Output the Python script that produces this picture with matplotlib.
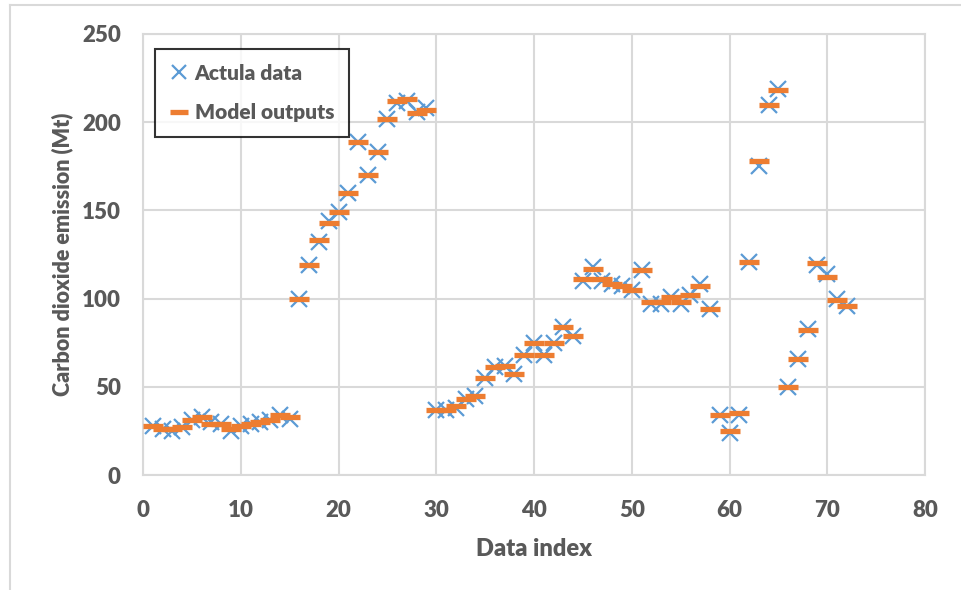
import matplotlib.pyplot as plt
import numpy as np

# data
idx = list(range(1, 73))
actual = [28, 26, 25, 27, 31, 33, 30, 29, 25, 28, 29, 30, 31, 34, 32,
          100, 119, 132, 144, 149, 160, 189, 170, 183, 202, 211, 212, 206, 208,
          37, 37, 38, 43, 45, 55, 61, 62, 57, 68, 75, 68, 75, 84, 79,
          110, 118, 110, 108, 107, 105, 116, 97, 97, 101, 97, 102, 108, 94,
          34, 24, 34, 121, 175, 210, 219, 50, 66, 83, 119, 114, 100, 96]
model = [28, 26, 26, 27, 31, 33, 29, 29, 26, 28, 29, 30, 31, 34, 33,
         100, 119, 133, 143, 149, 160, 189, 170, 183, 202, 212, 213, 205, 207,
         37, 37, 39, 43, 45, 55, 61, 62, 57, 68, 75, 68, 75, 84, 79,
         111, 117, 111, 108, 107, 105, 116, 98, 98, 101, 98, 102, 107, 94,
         34, 25, 35, 121, 178, 210, 218, 50, 66, 82, 120, 112, 99, 96]

txt = '#595959'
plt.rcParams['font.family'] = ['Lato', 'DejaVu Sans']
plt.rcParams['font.weight'] = 'bold'

fig = plt.figure(figsize=(9.61, 5.90), dpi=100)
ax = fig.add_axes([143 / 961, 1 - 475 / 590, (925 - 143) / 961, (475 - 34) / 590])

ax.plot(idx, actual, linestyle='none', marker='x', markersize=12, mew=1.6,
        color='#5B9BD5', label='Actula data', zorder=3)
ax.plot(idx, model, linestyle='none', marker='_', markersize=15, mew=3.8,
        color='#ED7D31', label='Model outputs', zorder=4)

ax.set_xlim(0, 80)
ax.set_ylim(0, 250)
ax.set_xticks(np.arange(0, 81, 10))
ax.set_yticks(np.arange(0, 251, 50))
ax.grid(True, color='#D9D9D9', linewidth=1.5)
ax.set_axisbelow(True)
for s in ax.spines.values():
    s.set_color('#D9D9D9')
    s.set_linewidth(1.5)
ax.tick_params(length=0, labelsize=16, labelcolor=txt)
ax.tick_params(axis='x', pad=18)
ax.tick_params(axis='y', pad=16)
for lab in ax.get_xticklabels() + ax.get_yticklabels():
    lab.set_fontweight('heavy')

ax.set_xlabel('Data index', fontsize=17, color=txt, fontweight='heavy', labelpad=12)
ax.set_ylabel('Carbon dioxide emission (Mt)', fontsize=15.5, color=txt,
              fontweight='heavy', labelpad=6)

leg = ax.legend(loc='upper left', bbox_to_anchor=(12 / 782, 1 - 15 / 441),
                borderaxespad=0, frameon=True, fancybox=False, edgecolor='black',
                fontsize=15, borderpad=0.7, labelspacing=1.0, handlelength=0.9,
                handletextpad=0.3, markerscale=0.85)
leg.get_frame().set_linewidth(1.5)
for t in leg.get_texts():
    t.set_color(txt)
    t.set_fontweight('heavy')

# outer light border like the source image
fig.add_artist(plt.Line2D([10 / 961, 10 / 961], [0, 1 - 5 / 590],
                          color='#D9D9D9', lw=1.5, transform=fig.transFigure))
fig.add_artist(plt.Line2D([10 / 961, 1], [1 - 5 / 590, 1 - 5 / 590],
                          color='#D9D9D9', lw=1.5, transform=fig.transFigure))

fig.savefig('out.png', dpi=100)
